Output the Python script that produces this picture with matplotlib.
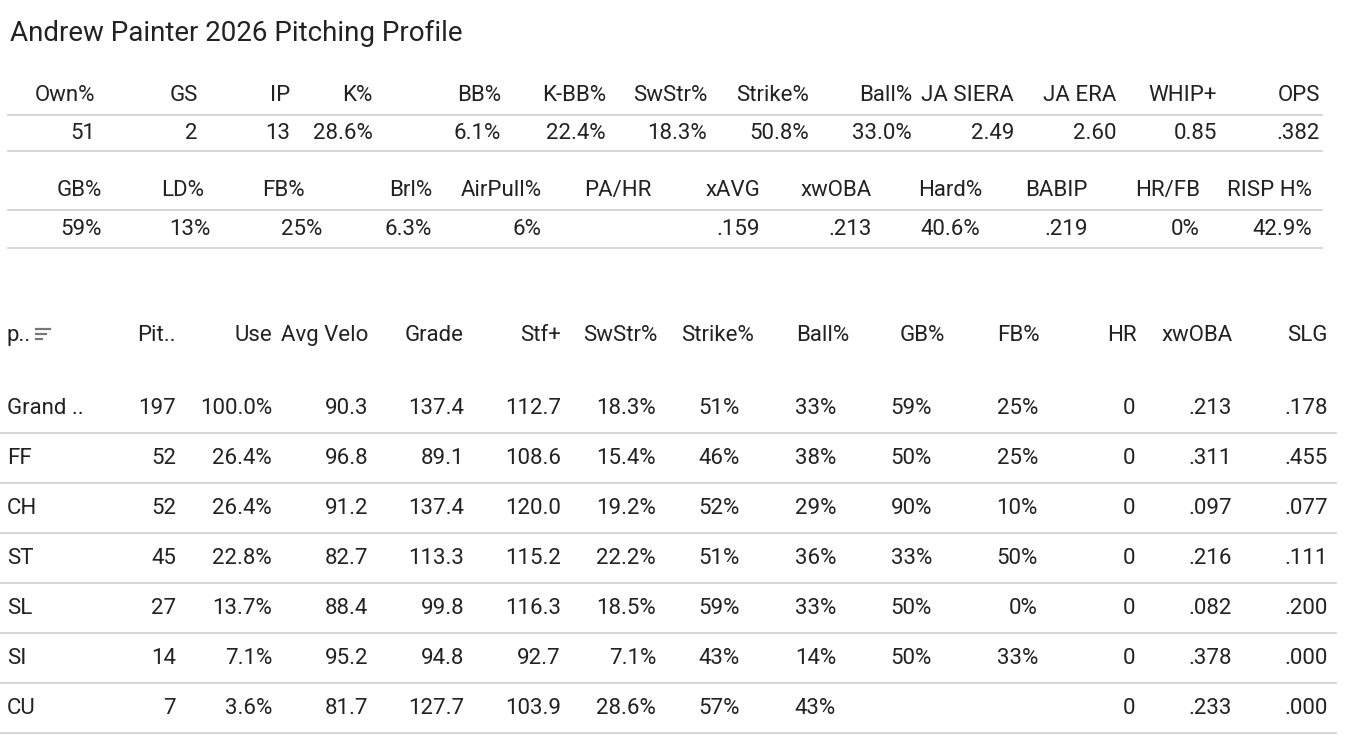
import matplotlib
matplotlib.use("Agg")
import matplotlib.pyplot as plt
from matplotlib.lines import Line2D

W, H = 1348, 748
TXT = "#222222"
RULE = "#cfcfcf"
FONT = ["Liberation Sans Narrow", "Roboto", "DejaVu Sans"]

title = "Andrew Painter 2026 Pitching Profile"

# --- top summary row 1 ---
t1_headers = ["Own%", "GS", "IP", "K%", "BB%", "K-BB%", "SwStr%", "Strike%",
              "Ball%", "JA SIERA", "JA ERA", "WHIP+", "OPS"]
t1_values = ["51", "2", "13", "28.6%", "6.1%", "22.4%", "18.3%", "50.8%",
             "33.0%", "2.49", "2.60", "0.85", ".382"]
t1_x = [95, 198, 290, 373, 501, 606, 707, 809, 912, 1014, 1116, 1217, 1320]

# --- top summary row 2 ---
t2_headers = ["GB%", "LD%", "FB%", "Brl%", "AirPull%", "PA/HR", "xAVG",
              "xwOBA", "Hard%", "BABIP", "HR/FB", "RISP H%"]
t2_values = ["59%", "13%", "25%", "6.3%", "6%", "", ".159", ".213",
             "40.6%", ".219", "0%", "42.9%"]
t2_hx = [102, 204, 305, 432, 542, 652, 760, 872, 982, 1088, 1200, 1312]
t2_vx = [102, 211, 322, 432, 542, 652, 760, 872, 980, 1088, 1200, 1312]

# --- pitch table ---
p_headers = ["p..", "Pit..", "Use", "Avg Velo", "Grade", "Stf+", "SwStr%",
             "Strike%", "Ball%", "GB%", "FB%", "HR", "xwOBA", "SLG"]
p_rows = [
    ["Grand ..", "197", "100.0%", "90.3", "137.4", "112.7", "18.3%", "51%", "33%", "59%", "25%", "0", ".213", ".178"],
    ["FF", "52", "26.4%", "96.8", "89.1", "108.6", "15.4%", "46%", "38%", "50%", "25%", "0", ".311", ".455"],
    ["CH", "52", "26.4%", "91.2", "137.4", "120.0", "19.2%", "52%", "29%", "90%", "10%", "0", ".097", ".077"],
    ["ST", "45", "22.8%", "82.7", "113.3", "115.2", "22.2%", "51%", "36%", "33%", "50%", "0", ".216", ".111"],
    ["SL", "27", "13.7%", "88.4", "99.8", "116.3", "18.5%", "59%", "33%", "50%", "0%", "0", ".082", ".200"],
    ["SI", "14", "7.1%", "95.2", "94.8", "92.7", "7.1%", "43%", "14%", "50%", "33%", "0", ".378", ".000"],
    ["CU", "7", "3.6%", "81.7", "127.7", "103.9", "28.6%", "57%", "43%", "", "", "0", ".233", ".000"],
]
p_hx = [7, 176, 272, 368, 464, 561, 657, 754, 849, 945, 1040, 1137, 1233, 1328]
p_vx = [7, 176, 272, 368, 464, 561, 656, 740, 836, 932, 1038, 1135, 1232, 1328]

fig = plt.figure(figsize=(W / 100, H / 100), dpi=100)
ax = fig.add_axes([0, 0, 1, 1])
ax.set_xlim(0, W)
ax.set_ylim(H, 0)
ax.axis("off")

FS = 16


def txt(x, y, s, ha="right", size=FS):
    ax.text(x, y, s, ha=ha, va="center", fontsize=size, color=TXT, family=FONT)


def rule(y, x0, x1):
    ax.add_line(Line2D([x0, x1], [y, y], color=RULE, lw=1.2))


txt(10, 33, title, ha="left", size=20)

for h, v, x in zip(t1_headers, t1_values, t1_x):
    txt(x, 95, h)
    txt(x, 133, v)
rule(115, 8, 1322)
rule(151, 8, 1322)

for h, v, hx, vx in zip(t2_headers, t2_values, t2_hx, t2_vx):
    txt(hx, 190, h)
    txt(vx, 229, v)
rule(210, 8, 1322)
rule(248, 8, 1322)

for i, (h, x) in enumerate(zip(p_headers, p_hx)):
    txt(x, 335, h, ha="left" if i == 0 else "right")
# sort icon next to first header
for k, ln in enumerate([14, 10, 6]):
    ax.add_line(Line2D([36, 36 + ln], [329 + 5 * k] * 2, color="#777777", lw=1.6))

y0, dy = 408, 50
for r, row in enumerate(p_rows):
    y = y0 + r * dy
    for c, (v, x) in enumerate(zip(row, p_vx)):
        txt(x, y, v, ha="left" if c == 0 else "right")
    rule(y + 25, 0, 1336)

fig.savefig("out.png", dpi=100)
